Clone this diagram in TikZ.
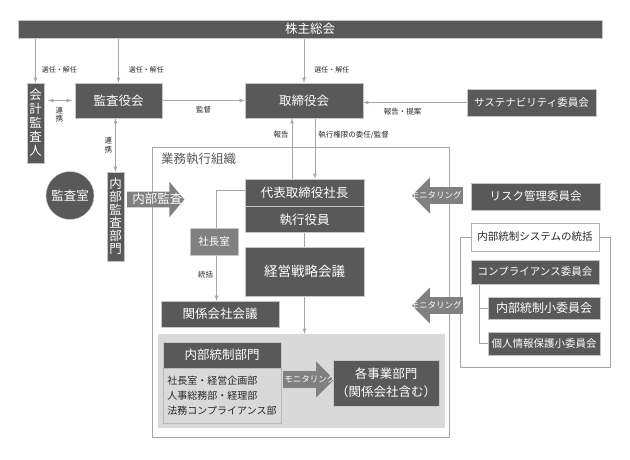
\documentclass[tikz,border=0pt]{standalone}
\usepackage{fontspec}
\setmainfont{Noto Sans CJK JP}
\usepackage{tikz}
\usetikzlibrary{positioning,shapes,arrows,backgrounds}

\definecolor{boxdark}{HTML}{595959}
\definecolor{boxmid}{HTML}{808080}
\definecolor{linegray}{HTML}{A6A6A6}
\definecolor{areagray}{HTML}{D9D9D9}

\newcommand{\jfs}[2]{\fontsize{#1}{#2}\selectfont}

\begin{document}
\begin{tikzpicture}[x=1pt, y=-1pt, >=latex]
  \tikzstyle{org} = [draw=gray!45, fill=boxdark, text=white, inner sep=0pt, font=\jfs{12.5}{14}]
  \tikzstyle{sub} = [org, fill=boxmid]
  \tikzstyle{vbox} = [org, align=center, minimum width=17pt]
  \tikzstyle{lbl} = [inner sep=1pt, text=black!85, font=\jfs{7.5}{8.5}]
  \tikzstyle{link} = [draw=linegray, line width=0.8pt]
  \tikzstyle{grpframe} = [draw=linegray, line width=0.8pt, inner sep=0pt]
  \tikzstyle{blk} = [single arrow, fill=boxmid, text=white, inner xsep=1pt, inner ysep=4pt, single arrow head extend=9.5pt, font=\jfs{8.5}{9}]

  \useasboundingbox (0,0) rectangle (630,459);

  % top level
  \node [org, minimum width=584pt, minimum height=18pt] (kabu) at (310,29) {株主総会};
  \node [vbox, minimum height=80pt] (kaikei) at (35.5,123) {会\\計\\監\\査\\人};
  \node [org, minimum width=87pt, minimum height=35pt] (kansa) at (118.5,100.5) {監査役会};
  \node [org, minimum width=118pt, minimum height=35pt] (tori) at (304,100.5) {取締役会};
  \node [org, minimum width=129pt, minimum height=27pt, font=\jfs{10.5}{12}] (susta) at (531.5,102.5) {サステナビリティ委員会};

  % audit side
  \node [org, circle, minimum size=48pt] (kshitsu) at (70,195.5) {監査室};
  \node [vbox, minimum height=89pt, font=\jfs{12.5}{13}] (naibu) at (115.5,216.5) {内\\部\\監\\査\\部\\門};
  \node [blk, anchor=tail, font=\jfs{12.5}{14}, text height=10.5pt, text depth=2pt, inner ysep=1.5pt, single arrow head extend=9.75pt, single arrow tip angle=100] (nkansa) at (127,199.5) {\makebox[48pt][l]{\hspace{4pt}内部監査}};

  % execution
  \node [org, minimum width=119pt, minimum height=27pt] (daihyo) at (304.5,192.5) {代表取締役社長};
  \node [org, minimum width=119pt, minimum height=26pt, below=0pt of daihyo] (shikko) {執行役員};
  \node [sub, minimum width=48pt, minimum height=27pt, font=\jfs{10.5}{12}] (shacho) at (214,241.5) {社長室};
  \node [org, minimum width=119pt, minimum height=49pt, font=\jfs{13.5}{15}] (senryaku) at (304.5,271.5) {経営戦略会議};
  \node [org, minimum width=118pt, minimum height=26pt] (kankei) at (220,314) {関係会社会議};

  % internal control dept
  \node [org, minimum width=118pt, minimum height=26pt] (ntbumon) at (222,355) {内部統制部門};
  \node [below=0pt of ntbumon, draw=gray!55, fill=areagray, text=black!85, minimum width=118pt, minimum height=55pt, inner sep=0pt, align=left, font=\jfs{10}{15}] (ntlist) {社長室・経営企画部\\人事総務部・経理部\\法務コンプライアンス部};
  \node [blk, anchor=tail, text height=7pt, text depth=1.5pt] (mon3) at (283,379.5) {\makebox[40pt][l]{モニタリング}};
  \node [org, minimum width=106pt, minimum height=46pt, align=center, font=\jfs{12.5}{18}] (jigyo) at (386,383) {各事業部門\\（関係会社含む）};

  % right side
  \node [org, minimum width=129pt, minimum height=27pt, font=\jfs{11.5}{13}] (risk) at (535.5,196.5) {リスク管理委員会};
  \node [blk, shape border rotate=180, anchor=tail, text height=7pt, text depth=1.5pt] (mon1) at (463,195.5) {\makebox[40pt][r]{モニタリング}};
  \node [draw=gray!60, fill=white, text=black!85, minimum width=128pt, minimum height=28pt, inner sep=0pt, font=\jfs{10.5}{12}] (nstitle) at (535,237) {内部統制システムの統括};
  \node [org, minimum width=128pt, minimum height=24pt, font=\jfs{10.5}{12}] (comp) at (535,272) {コンプライアンス委員会};
  \node [org, minimum width=112pt, minimum height=22pt, font=\jfs{12}{13}] (ntsho) at (544,308) {内部統制小委員会};
  \node [org, minimum width=112pt, minimum height=23pt, font=\jfs{10.5}{12}] (kojin) at (544,343.5) {個人情報保護小委員会};
  \node [blk, shape border rotate=180, anchor=tail, text height=7pt, text depth=1.5pt] (mon2) at (463,305.5) {\makebox[40pt][r]{モニタリング}};

  % frames and connectors
  \begin{scope}[on background layer]
    \node [grpframe, minimum width=297pt, minimum height=290pt] (gyomu) at (300.5,292) {};
    \node [anchor=north west, inner sep=0pt, text=boxdark, font=\jfs{12.5}{14}] (gyomulbl) at (161,152.5) {業務執行組織};
    \node [fill=areagray, inner sep=0pt, minimum width=287pt, minimum height=94pt] (area) at (301.5,381) {};
    \node [grpframe, minimum width=150pt, minimum height=130pt] (nsframe) at (535,302) {};

    \draw [link, ->] (kaikei.north |- kabu.south) -- (kaikei.north) node [lbl, pos=0.7, right=5pt, font=\jfs{7}{8}] {選任・解任};
    \draw [link, ->] (kansa.north |- kabu.south) -- (kansa.north) node [lbl, pos=0.7, right=9pt, font=\jfs{7}{8}] {選任・解任};
    \draw [link, ->] (tori.north |- kabu.south) -- (tori.north) node [lbl, pos=0.7, right=9pt, font=\jfs{7}{8}] {選任・解任};
    \draw [link, <->, shorten <=4pt, shorten >=3pt] (kaikei.east |- kansa.west) -- (kansa.west) node [lbl, midway, below=5pt, align=center] {連\\携};
    \draw [link, ->] (kansa) -- (tori) node [lbl, midway, below=4pt] {監督};
    \draw [link, ->] (susta.west) -- (susta.west -| tori.east) node [lbl, pos=0.62, below=4pt] {報告・提案};
    \draw [link, <->] (naibu.north) -- (naibu.north |- kansa.south) node [lbl, midway, left=2pt, align=center] {連\\携};

    \coordinate (hoB) at ([xshift=-12.5pt]daihyo.north);
    \coordinate (inB) at ([xshift=10.5pt]daihyo.north);
    \draw [link, ->] (hoB) -- (hoB |- tori.south) node [lbl, pos=0.72, left=2pt] {報告};
    \draw [link, ->] (inB |- tori.south) -- (inB) node [lbl, pos=0.28, right=2pt] {執行権限の委任/監督};

    \coordinate (toB) at ([yshift=2.5pt]daihyo.west);
    \coordinate (toE) at ([xshift=2.5pt]shacho.center);
    \draw [link, ->] (toB) -| (toE |- kankei.north) node [lbl, pos=0.88, left=2pt] {統括};
    \draw [link, ->] (shikko.south) -- (shikko.south |- area.north);

    \coordinate (trB) at ([xshift=-56pt]comp.south);
    \draw [link] (trB) |- (ntsho.west);
    \draw [link] (trB) |- (kojin.west);
  \end{scope}
\end{tikzpicture}
\end{document}
